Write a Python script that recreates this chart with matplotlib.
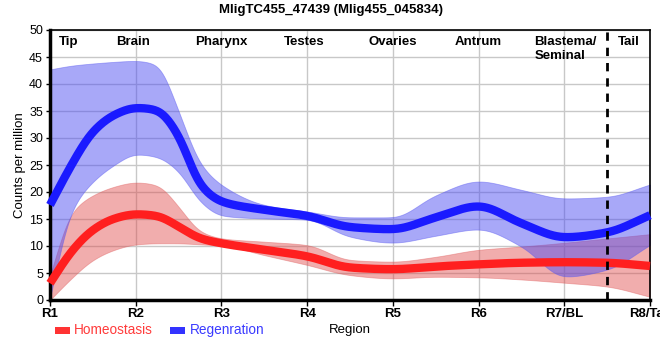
import numpy as np
import matplotlib
matplotlib.use("Agg")
import matplotlib.pyplot as plt
from matplotlib.patches import Rectangle

plt.rcParams['font.family'] = ['Liberation Sans', 'DejaVu Sans']

title = "MligTC455_47439 (Mlig455_045834)"
tick_labels = ["R1", "R2", "R3", "R4", "R5", "R6", "R7/BL", "R8/Tail"]
region_names = ["Tip", "Brain", "Pharynx", "Testes", "Ovaries", "Antrum", "Blastema/\nSeminal", "Tail"]
region_pos = [0.22, 0.97, 2.0, 2.97, 4.0, 5.0, 5.65, 6.75]

# sample positions along the body axis (0 = R1 ... 7 = R8)
pos = [0, 0.25, 0.5, 0.75, 1, 1.25, 1.5, 1.75, 2, 2.5, 3, 3.5, 4, 4.5, 5, 5.5, 6, 6.5, 7]

regen_mean = [17.6, 25.0, 31.2, 34.3, 35.6, 35.2, 30.5, 21.3, 18.2, 16.7, 15.6, 13.5, 13.1, 15.3, 17.4, 14.2, 11.6, 12.5, 15.7]
regen_upper = [42.7, 43.4, 43.8, 44.1, 44.3, 43.6, 35.0, 25.3, 21.3, 17.6, 16.4, 15.3, 15.3, 19.4, 22.0, 20.4, 18.8, 19.1, 21.4]
regen_lower = [0.3, 16.5, 21.9, 25.0, 27.0, 26.5, 23.8, 18.2, 15.6, 15.1, 14.9, 11.7, 10.6, 11.9, 13.1, 9.9, 4.3, 5.6, 10.2]

homeo_mean = [3.1, 9.0, 13.0, 15.1, 15.9, 15.6, 13.6, 11.4, 10.5, 9.3, 8.1, 6.0, 5.7, 6.2, 6.6, 6.9, 7.0, 6.9, 6.3]
homeo_upper = [4.5, 16.2, 19.4, 21.0, 21.8, 21.3, 17.3, 12.7, 11.4, 10.8, 10.2, 7.4, 7.1, 8.0, 9.3, 9.9, 10.6, 11.4, 12.2]
homeo_lower = [0.0, 4.0, 7.4, 9.3, 10.3, 10.5, 10.5, 10.3, 10.1, 8.3, 6.5, 4.6, 4.0, 4.3, 4.2, 3.8, 3.2, 2.5, 0.6]

boundary_pos = 6.5


def pchip(x, y, xs):
    x = np.asarray(x, float); y = np.asarray(y, float)
    h = np.diff(x); d = np.diff(y) / h
    n = len(x); m = np.zeros(n)
    for k in range(1, n - 1):
        if d[k - 1] * d[k] > 0:
            w1 = 2 * h[k] + h[k - 1]; w2 = h[k] + 2 * h[k - 1]
            m[k] = (w1 + w2) / (w1 / d[k - 1] + w2 / d[k])
    m[0] = d[0]; m[-1] = d[-1]
    idx = np.clip(np.searchsorted(x, xs) - 1, 0, n - 2)
    t = (xs - x[idx]) / h[idx]
    h00 = 2 * t**3 - 3 * t**2 + 1; h10 = t**3 - 2 * t**2 + t
    h01 = -2 * t**3 + 3 * t**2; h11 = t**3 - t**2
    return h00 * y[idx] + h10 * h[idx] * m[idx] + h01 * y[idx + 1] + h11 * h[idx] * m[idx + 1]


xs = np.linspace(0, 7, 701)
step = xs[1] - xs[0]


def smooth_curve(y, sigma=0.07):
    base = pchip(pos, y, xs)
    r = int(4 * sigma / step)
    k = np.exp(-0.5 * (np.arange(-r, r + 1) * step / sigma) ** 2)
    k /= k.sum()
    left = 2 * base[0] - base[r:0:-1]
    right = 2 * base[-1] - base[-2:-r - 2:-1]
    padded = np.concatenate([left, base, right])
    return np.convolve(padded, k, mode="valid")


fig = plt.figure(figsize=(6.6, 3.6), dpi=100)
ax = fig.add_axes([50 / 660, 60 / 360, 600 / 660, 270 / 360])

red_line = "#ff1f1f"
blue_line = "#1a1aff"

ax.fill_between(xs, smooth_curve(homeo_lower), smooth_curve(homeo_upper),
                facecolor="#e04a4a", alpha=0.45, edgecolor="#e06060", linewidth=0.6, zorder=2)
ax.fill_between(xs, smooth_curve(regen_lower), smooth_curve(regen_upper),
                facecolor="#4a4af2", alpha=0.48, edgecolor="#5a5af0", linewidth=0.6, zorder=2)
ax.plot(xs, smooth_curve(homeo_mean), color=red_line, lw=6, zorder=3, solid_capstyle="butt", clip_on=False)
ax.plot(xs, smooth_curve(regen_mean), color=blue_line, lw=6, zorder=3, solid_capstyle="butt", clip_on=False)

ax.axvline(boundary_pos, color="black", lw=2, ls=(0, (3, 2.5)), zorder=4)

ax.set_xlim(0, 7)
ax.set_ylim(0, 50)
ax.set_xticks(range(len(tick_labels)))
ax.set_xticklabels(tick_labels, fontweight="bold", fontsize=9.5)
ax.set_yticks(range(0, 51, 5))
ax.tick_params(axis="y", labelsize=9, length=3, width=1, pad=2)
ax.tick_params(axis="x", length=4, width=1, pad=2)
ax.grid(True, color="#c8c8c8", lw=1)
ax.set_axisbelow(True)

for s in ["left", "bottom"]:
    ax.spines[s].set_linewidth(2.5)
for s in ["top", "right"]:
    ax.spines[s].set_linewidth(1.2)

ax.set_ylabel("Counts per million", fontsize=9.5, labelpad=2)
ax.set_xlabel("Region", fontsize=9.5, labelpad=3)

for name, p in zip(region_names, region_pos):
    ha = "left" if "/" in name else "center"
    ax.text(p, 48.8, name, ha=ha, va="top", fontsize=9.5, fontweight="bold", linespacing=1.15, zorder=5)

fig.text(331 / 660, 1 - 10 / 360, title, ha="center", va="center", fontsize=9.5, fontweight="bold")

# legend
fig.patches.append(Rectangle((55 / 660, 1 - 334 / 360), 15 / 660, 7 / 360, transform=fig.transFigure,
                             facecolor="#ff3333", edgecolor="none"))
fig.text(74 / 660, 1 - 330 / 360, "Homeostasis", color="#ff3b3b", fontsize=9.8, va="center", ha="left")
fig.patches.append(Rectangle((170 / 660, 1 - 334 / 360), 15 / 660, 7 / 360, transform=fig.transFigure,
                             facecolor="#3333ff", edgecolor="none"))
fig.text(190 / 660, 1 - 330 / 360, "Regenration", color="#3b3bff", fontsize=9.8, va="center", ha="left")

fig.savefig("out.png", dpi=100)
